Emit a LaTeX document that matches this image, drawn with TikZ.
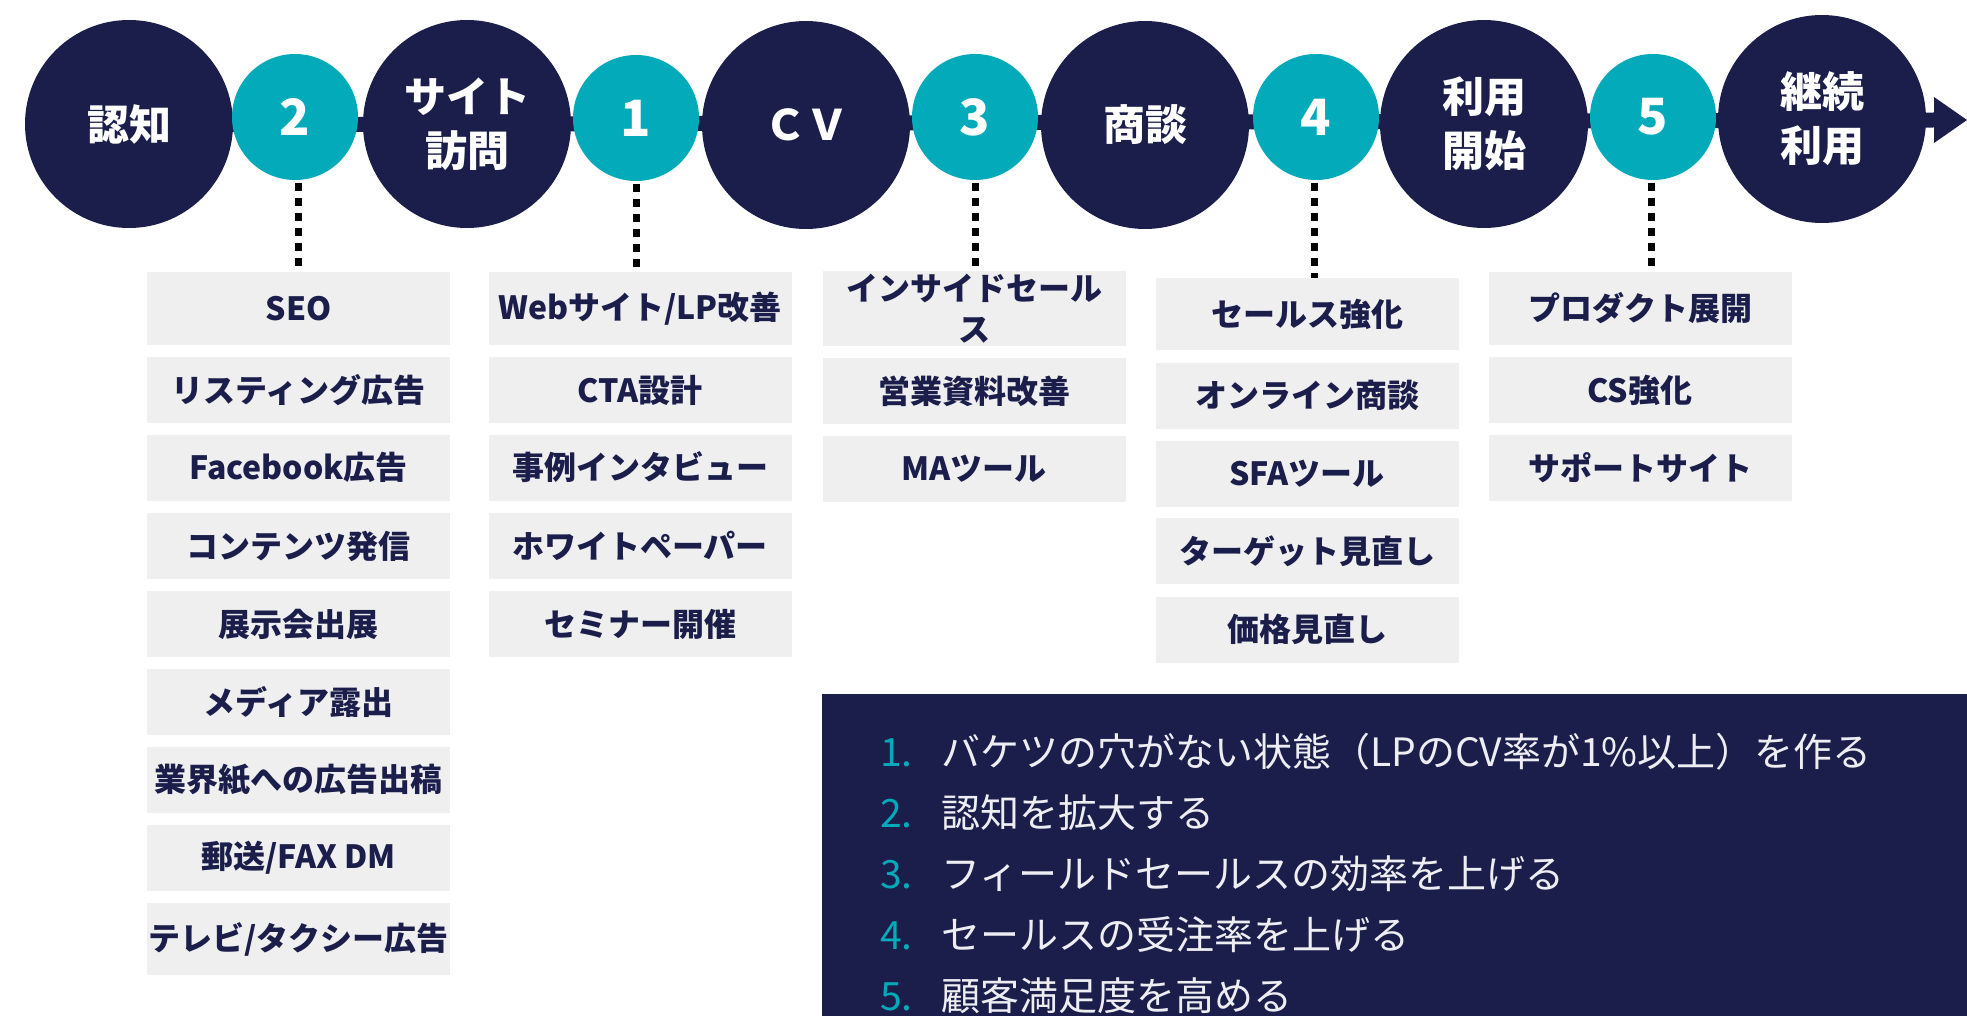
\documentclass[tikz,border=0pt]{standalone}
\usepackage{fontspec}
\setmainfont{Noto Sans CJK JP}
\definecolor{navy}{HTML}{1B1E4B}
\definecolor{tealc}{HTML}{03AAB9}
\definecolor{boxgray}{HTML}{EFEFEF}
\definecolor{paneltxt}{HTML}{EDEDF2}
\begin{document}
\begin{tikzpicture}[x=1pt,y=-1pt,
  bigc/.style={circle,fill=navy,minimum size=208pt,inner sep=0pt,text=white,align=center,
    font=\fontsize{42}{54}\selectfont\bfseries},
  smallc/.style={circle,fill=tealc,minimum size=126pt,inner sep=0pt,text=white,
    font=\fontsize{50}{60}\selectfont\bfseries},
  gbox/.style={fill=boxgray,minimum width=303pt,minimum height=66pt,inner sep=0pt,text=navy,
    align=center,font=\fontsize{32}{41}\selectfont\bfseries},
  dotline/.style={draw=black,line width=7pt,dash pattern=on 8pt off 7pt},
  ptext/.style={anchor=west,inner sep=0pt,text=paneltxt,font=\fontsize{39}{46}\selectfont}
]
\useasboundingbox (0,0) rectangle (1967,1016);

% main bar and arrow
\coordinate (tip) at (1967,120);
\coordinate (abase) at (1934,120);
\draw[navy,line width=15pt] (129,125) -- (abase);
\fill[navy] (1934,97) -- (tip) -- (1934,143) -- cycle;

% big circles
\node[bigc] (s1) at (129,124) {認知};
\node[bigc] (s2) at (467,124) {サイト\\訪問};
\node[bigc] (s3) at (806,125) {ＣＶ};
\node[bigc] (s4) at (1145,125) {商談};
\node[bigc] (s5) at (1484,124) {利用\\開始};
\node[bigc] (s6) at (1822,119) {継続\\利用};

% small circles
\node[smallc] (n2) at (295,117) {2};
\node[smallc] (n1) at (636,118) {1};
\node[smallc] (n3) at (975,117) {3};
\node[smallc] (n4) at (1316,117) {4};
\node[smallc] (n5) at (1653,117) {5};

% column 1
\node[gbox,minimum height=73pt] (a1) at (298.5,308.5) {SEO};
\node[gbox] (a2) at (298.5,390) {リスティング広告};
\node[gbox] (a3) at (298.5,467.5) {Facebook広告};
\node[gbox] (a4) at (298.5,546) {コンテンツ発信};
\node[gbox] (a5) at (298.5,624) {展示会出展};
\node[gbox] (a6) at (298.5,702) {メディア露出};
\node[gbox] (a7) at (298.5,780) {業界紙への広告出稿};
\node[gbox] (a8) at (298.5,857.5) {郵送/FAX DM};
\node[gbox,minimum height=72pt] (a9) at (298.5,939) {テレビ/タクシー広告};

% column 2
\node[gbox,minimum height=73pt] (b1) at (640,308.5) {Webサイト/LP改善};
\node[gbox] (b2) at (640,390) {CTA設計};
\node[gbox] (b3) at (640,467.5) {事例インタビュー};
\node[gbox] (b4) at (640,546) {ホワイトペーパー};
\node[gbox] (b5) at (640,624) {セミナー開催};

% column 3
\node[gbox,minimum height=75pt] (c1) at (974,308.5) {インサイドセール\\ス};
\node[gbox] (c2) at (974,391) {営業資料改善};
\node[gbox] (c3) at (974,469) {MAツール};

% column 4
\node[gbox,minimum height=72pt] (d1) at (1307,314) {セールス強化};
\node[gbox] (d2) at (1307,395.5) {オンライン商談};
\node[gbox] (d3) at (1307,473.5) {SFAツール};
\node[gbox] (d4) at (1307,551) {ターゲット見直し};
\node[gbox] (d5) at (1307,629.5) {価格見直し};

% column 5
\node[gbox,minimum height=73pt] (e1) at (1640,308.5) {プロダクト展開};
\node[gbox] (e2) at (1640,390) {CS強化};
\node[gbox] (e3) at (1640,467.5) {サポートサイト};

% dotted connectors
\draw[dotline] (n2.south) ++(3,3) -- ([xshift=3pt]n2.south |- a1.north);
\draw[dotline] (n1.south) ++(0,3) -- (n1.south |- b1.north);
\draw[dotline] (n3.south) ++(0,3) -- (n3.south |- c1.north);
\draw[dotline] (n4.south) ++(-2,3) -- ([xshift=-2pt]n4.south |- d1.north);
\draw[dotline] (n5.south) ++(-2,3) -- ([xshift=-2pt]n5.south |- e1.north);

% bottom panel
\node[fill=navy,anchor=north west,minimum width=1145pt,minimum height=322pt,inner sep=0pt] (panel) at (822,694) {};
\node[ptext] (p1) at (880,752) {\makebox[61pt][l]{\color{tealc}1.}バケツの穴がない状態（LPのCV率が1\%以上）を作る};
\node[ptext] (p2) at (880,813) {\makebox[61pt][l]{\color{tealc}2.}認知を拡大する};
\node[ptext] (p3) at (880,874) {\makebox[61pt][l]{\color{tealc}3.}フィールドセールスの効率を上げる};
\node[ptext] (p4) at (880,935) {\makebox[61pt][l]{\color{tealc}4.}セールスの受注率を上げる};
\node[ptext] (p5) at (880,996) {\makebox[61pt][l]{\color{tealc}5.}顧客満足度を高める};
\end{tikzpicture}
\end{document}
